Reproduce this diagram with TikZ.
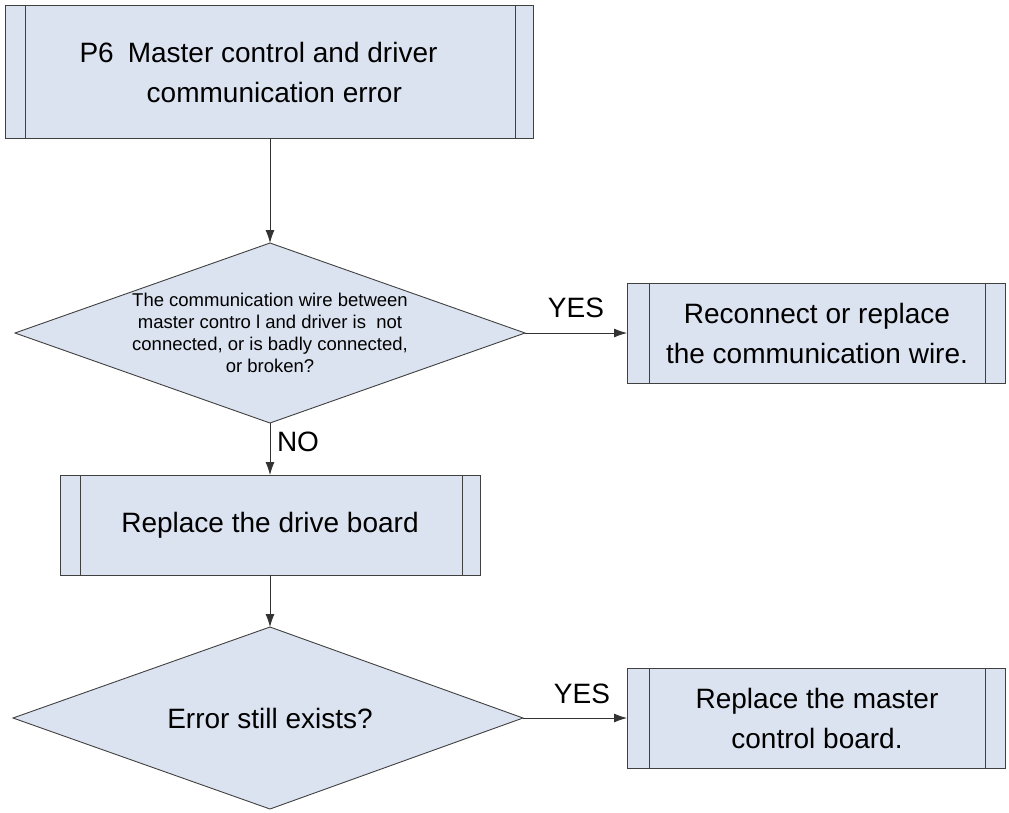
\documentclass[tikz,border=0pt]{standalone}
\usepackage{fontspec}
\setmainfont{Liberation Sans}
\usetikzlibrary{arrows.meta}
\definecolor{fillc}{RGB}{220,227,240}
\begin{document}
\begin{tikzpicture}[x=1pt,y=-1pt,
  line/.style={draw=black!75,line width=0.9pt},
  arr/.style={draw=black!80,line width=0.8pt,-{Latex[length=13pt,width=9pt]}},
  big/.style={font=\fontsize{28}{40}\selectfont}]
\useasboundingbox (0,0) rectangle (1009,812);
% top box
\path[line,fill=fillc] (5,5) rectangle (533,138);
\draw[line] (25,5)--(25,138) (515,5)--(515,138);
\node[align=left,big,anchor=west] (t) at (76,72) {P6\enspace Master control and driver\\\hspace{2.4em}communication error};
\coordinate (tb) at (270,138);
% diamond 1
\path[line,fill=fillc] (270,243) coordinate (d1t) -- (525,333) coordinate (d1r) -- (270,423) coordinate (d1b) -- (15,333) -- cycle;
\node[align=center,font=\fontsize{18.5}{22}\selectfont] (d1) at (270,333) {The communication wire between\\master contro l and driver is\ \ not\\connected, or is badly connected,\\or broken?};
% right box 1
\path[line,fill=fillc] (627,283) coordinate (r1l) rectangle (1005,383);
\draw[line] (649,283)--(649,383) (985,283)--(985,383);
\node[align=center,big] (r1) at (817,333) {Reconnect or replace\\the communication wire.};
\coordinate (r1w) at (627,333);
% box 2
\path[line,fill=fillc] (60,475) rectangle (480,575);
\draw[line] (80,475)--(80,575) (462,475)--(462,575);
\node[big] (b2) at (270,525) {Replace the drive board};
\coordinate (b2t) at (270,475); \coordinate (b2b) at (270,575);
% diamond 2
\path[line,fill=fillc] (270,627) coordinate (d2t) -- (523,718) coordinate (d2r) -- (270,809) -- (13,718) -- cycle;
\node[big] (d2) at (270,718) {Error still exists?};
% right box 2
\path[line,fill=fillc] (627,668) rectangle (1005,768);
\draw[line] (649,668)--(649,768) (985,668)--(985,768);
\node[align=center,big] (r2) at (817,718) {Replace the master\\control board.};
\coordinate (r2w) at (627,718);
% arrows
\draw[arr] (tb)--(d1t);
\draw[arr] (d1r)--(r1w);
\draw[arr] (d1b)--(b2t);
\draw[arr] (b2b)--(d2t);
\draw[arr] (d2r)--(r2w);
\node[big] (y1) at (576,308) {YES};
\node[big] (y2) at (582,694) {YES};
\node[big] (no) at (298,442) {NO};
\end{tikzpicture}
\end{document}
